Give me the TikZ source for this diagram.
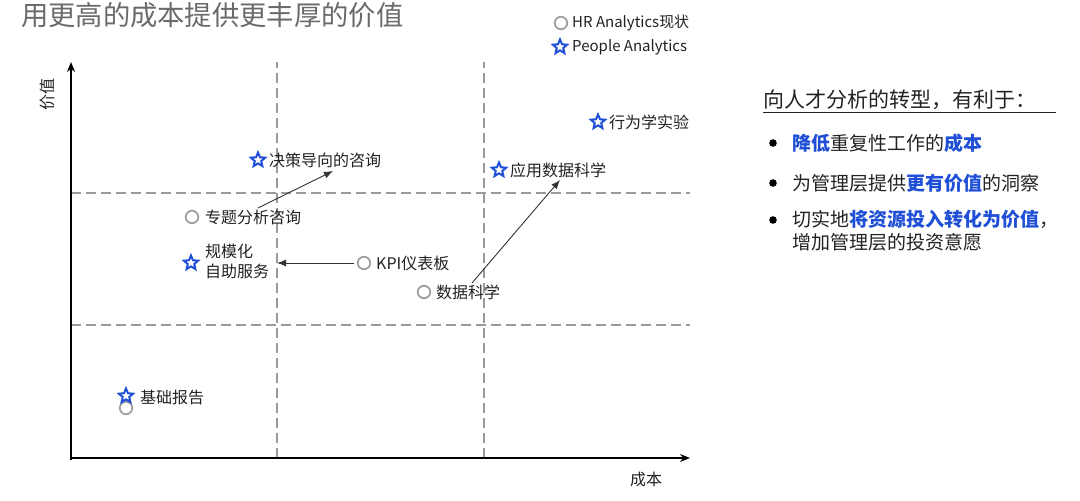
\documentclass[tikz,border=0pt]{standalone}
\usepackage{fontspec}
\setmainfont{Noto Sans CJK SC}
\usepackage{xcolor}
\usepackage{tikz}
\usetikzlibrary{
  arrows.meta,
  shapes.geometric
}
\definecolor{pablue}{HTML}{1F4FD6}
\definecolor{ringgray}{HTML}{A0A0A0}
\definecolor{dashgray}{HTML}{9A9A9A}
\definecolor{titlegray}{HTML}{6A6A6A}
\definecolor{inkgray}{HTML}{222222}

\begin{document}
\begin{tikzpicture}[%样式设定
        x=1pt,y=-1pt,
        starmark/.style={
            star,
            star points=5,
            star point ratio=2.2,
            draw=pablue,
            fill=white,
            line width=2pt,
            minimum size=15pt,
            inner sep=0pt
          },ringmark/.style={
            circle,
            draw=ringgray,
            line width=1.8pt,
            minimum size=12.5pt,
            inner sep=0pt
          },tag/.style={
            anchor=west,
            inner sep=0pt,
            text=inkgray,
            font=\fontsize{16}{20}\selectfont
          },grid/.style={
            dashgray,
            line width=1.3pt,
            dash pattern=on 10pt off 5pt
          },move/.style={
            draw=black!80,
            line width=0.9pt,
            -{Latex[length=9pt,width=7pt]}
          }
      ]
      \useasboundingbox (0,0) rectangle (1080,501);

      % 标题
      \node[anchor=west,inner sep=0pt,text=titlegray,font=\fontsize{27.3}{30}\selectfont]
        (title) at (21,15) {用更高的成本提供更丰厚的价值};

      % 图例
      \node[ringmark] (key_hr) at (561,23) {};
      \node[tag,font=\fontsize{15}{18}\selectfont] (key_hr_txt) at (572,23) {HR Analytics现状};
      \node[starmark] (key_pa) at (560,47) {};
      \node[tag,font=\fontsize{15}{18}\selectfont] (key_pa_txt) at (572,47) {People Analytics};

      % 坐标的定义
      \coordinate (origin) at (71,458);
      \coordinate (top_v) at (71,62);
      \coordinate (right_c) at (690,458);
      \coordinate (low_x) at (277,458);
      \coordinate (high_x) at (484,458);
      \coordinate (low_y) at (71,325);
      \coordinate (high_y) at (71,193);

      % 分区虚线
      \draw[grid] (low_x) -- (low_x |- top_v);
      \draw[grid] (high_x) -- (high_x |- top_v);
      \draw[grid] (low_y) -- (low_y -| right_c);
      \draw[grid] (high_y) -- (high_y -| right_c);

      % 坐标轴
      \draw[line width=1.6pt,-{Stealth[length=10pt,width=8pt]}] ([yshift=-2pt]origin) -- (top_v);
      \draw[line width=1.6pt,-{Stealth[length=10pt,width=8pt]}] ([xshift=-1pt]origin) -- (right_c);
      \node[rotate=90,inner sep=0pt,text=inkgray,font=\fontsize{16}{18}\selectfont]
        (value_lbl) at (47,94) {价值};
      \node[inner sep=0pt,text=inkgray,font=\fontsize{16}{18}\selectfont]
        (cost_lbl) at (646,479) {成本};

      % 数据点
      \node[starmark] (decision) at (258,160) {};
      \node[tag] (decision_txt) at (269,160) {决策导向的咨询};
      \node[ringmark] (topic) at (192,217) {};
      \node[tag] (topic_txt) at (205,217) {专题分析咨询};
      \node[starmark] (selfserve) at (191,263) {};
      \node[tag,align=left] (selfserve_txt) at (205,261) {规模化\\自助服务};
      \node[ringmark] (kpi) at (364,263) {};
      \node[tag] (kpi_txt) at (376,263) {KPI仪表板};
      \node[ringmark] (datasci) at (424,292) {};
      \node[tag] (datasci_txt) at (436,292) {数据科学};
      \node[starmark] (applied) at (499,170) {};
      \node[tag] (applied_txt) at (510,170) {应用数据科学};
      \node[starmark] (behave) at (598,122) {};
      \node[tag] (behave_txt) at (609,122) {行为学实验};
      \node[ringmark] (basic_hr) at (126,408) {};
      \node[starmark] (basic) at (126,396) {};
      \node[tag] (basic_txt) at (140,397) {基础报告};

      % 转型箭头
      \coordinate (topic_go) at (258,208);
      \coordinate (decision_in) at (333,171);
      \coordinate (kpi_go) at (354,263);
      \coordinate (selfserve_in) at (277,263);
      \coordinate (datasci_go) at (472,283);
      \coordinate (applied_in) at (560,180);
      \draw[move] (topic_go) -- (decision_in);
      \draw[move] (kpi_go) -- (selfserve_in);
      \draw[move] (datasci_go) -- (applied_in);

      % 右侧说明
      \node[anchor=west,inner sep=0pt,text=inkgray,font=\fontsize{21}{24}\selectfont]
        (head) at (763,100) {向人才分析的转型，有利于：};
      \draw[line width=0.8pt,inkgray] (763,112) -- (1056,112);
      \foreach \name/\yy in {dot_a/143,dot_b/183,dot_c/220}{
          \fill[black] (773,\yy) circle (3.8pt) coordinate (\name);
        }
      \node[anchor=west,inner sep=0pt,text=inkgray,font=\fontsize{19}{23}\selectfont]
        (gain_a) at (792,143) {{\bfseries\color{pablue}降低}重复性工作的{\bfseries\color{pablue}成本}};
      \node[anchor=west,inner sep=0pt,text=inkgray,font=\fontsize{19}{23}\selectfont]
        (gain_b) at (792,183) {为管理层提供{\bfseries\color{pablue}更有价值}的洞察};
      \node[anchor=north west,inner sep=0pt,text=inkgray,align=left,font=\fontsize{19}{23}\selectfont]
        (gain_c) at (792,210) {切实地{\bfseries\color{pablue}将资源投入转化为价值}，\\增加管理层的投资意愿};

    \end{tikzpicture}
\end{document}
